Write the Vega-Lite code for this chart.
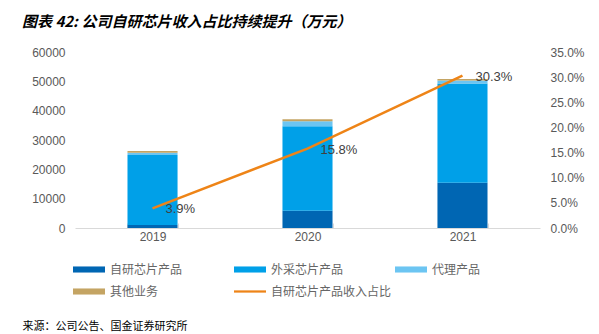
{
  "$schema": "https://vega.github.io/schema/vega-lite/v6.json",
  "width": 465,
  "height": 176,
  "autosize": {"type": "none"},
  "padding": {"left": 75, "top": 52, "right": 59, "bottom": 106},
  "background": "white",
  "title": {
    "text": "图表 42: 公司自研芯片收入占比持续提升（万元）",
    "anchor": "start",
    "frame": "group",
    "font": "Noto Sans CJK SC",
    "fontSize": 15,
    "fontWeight": "bold",
    "fontStyle": "italic",
    "color": "#000000",
    "dx": -53,
    "offset": 16
  },
  "config": {
    "view": {"stroke": null},
    "axis": {"labelFont": "Liberation Sans", "labelFontSize": 12, "labelColor": "#595959"}
  },
  "datasets": {
    "bars": [
      {"year": "2019", "series": "自研芯片产品", "value": 1020, "order": 1},
      {"year": "2019", "series": "外采芯片产品", "value": 23840, "order": 2},
      {"year": "2019", "series": "代理产品", "value": 800, "order": 3},
      {"year": "2019", "series": "其他业务", "value": 600, "order": 4},
      {"year": "2020", "series": "自研芯片产品", "value": 5850, "order": 1},
      {"year": "2020", "series": "外采芯片产品", "value": 28820, "order": 2},
      {"year": "2020", "series": "代理产品", "value": 1700, "order": 3},
      {"year": "2020", "series": "其他业务", "value": 700, "order": 4},
      {"year": "2021", "series": "自研芯片产品", "value": 15400, "order": 1},
      {"year": "2021", "series": "外采芯片产品", "value": 33900, "order": 2},
      {"year": "2021", "series": "代理产品", "value": 1000, "order": 3},
      {"year": "2021", "series": "其他业务", "value": 500, "order": 4}
    ],
    "ratio": [
      {"year": "2019", "pct": 0.039},
      {"year": "2020", "pct": 0.158},
      {"year": "2021", "pct": 0.303}
    ]
  },
  "encoding": {
    "x": {
      "field": "year",
      "type": "ordinal",
      "scale": {"paddingInner": 0.677, "paddingOuter": 0.3387},
      "axis": {
        "labelAngle": 0,
        "labelPadding": 8,
        "domainColor": "#d9d9d9",
        "tickColor": "#d9d9d9",
        "tickBand": "extent",
        "tickSize": -5,
        "title": "来源：公司公告、国金证券研究所",
        "titleFont": "Noto Sans CJK SC",
        "titleFontSize": 11,
        "titleFontWeight": "normal",
        "titleColor": "#000000",
        "titleAlign": "left",
        "titleAnchor": "start",
        "titleBaseline": "alphabetic",
        "titleX": -53,
        "titleY": 101
      }
    }
  },
  "layer": [
    {
      "data": {"name": "bars"},
      "mark": {"type": "bar"},
      "encoding": {
        "y": {
          "field": "value",
          "type": "quantitative",
          "stack": "zero",
          "scale": {"domain": [0, 60000], "nice": false},
          "axis": {
            "orient": "left",
            "title": null,
            "format": "d",
            "values": [0, 10000, 20000, 30000, 40000, 50000, 60000],
            "domain": false,
            "ticks": false,
            "grid": false,
            "labelPadding": 10
          }
        },
        "color": {
          "field": "series",
          "type": "nominal",
          "scale": {
            "domain": ["自研芯片产品", "外采芯片产品", "代理产品", "其他业务", "自研芯片产品收入占比"],
            "range": ["#0066B3", "#00A0E8", "#6CC5F2", "#C4A463", "#EE8417"]
          },
          "legend": {
            "orient": "none",
            "legendX": -2,
            "legendY": 201.5,
            "direction": "horizontal",
            "columns": 3,
            "gridAlign": "all",
            "columnPadding": 3,
            "rowPadding": -8.5,
            "title": null,
            "symbolType": "M-1,-0.19H1V0.19H-1Z",
            "symbolSize": 1024,
            "symbolStrokeWidth": 0,
            "labelOffset": 5,
            "labelFont": "Noto Sans CJK SC",
            "labelFontSize": 12,
            "labelColor": "#666666",
            "labelLimit": 200,
            "encode": {
              "symbols": {
                "update": {
                  "shape": {"signal": "datum.label == '自研芯片产品收入占比' ? 'M-1,-0.07H1V0.07H-1Z' : 'M-1,-0.19H1V0.19H-1Z'"}
                }
              }
            }
          }
        },
        "order": {"field": "order", "type": "quantitative"}
      }
    },
    {
      "data": {"name": "ratio"},
      "encoding": {
        "y": {
          "field": "pct",
          "type": "quantitative",
          "scale": {"domain": [0, 0.35], "nice": false},
          "axis": {
            "orient": "right",
            "title": null,
            "format": ".1%",
            "values": [0, 0.05, 0.1, 0.15, 0.2, 0.25, 0.3, 0.35],
            "domain": false,
            "ticks": false,
            "grid": false,
            "labelPadding": 10
          }
        }
      },
      "layer": [
        {
          "mark": {"type": "line", "stroke": "#EE8417", "strokeWidth": 2.5}
        },
        {
          "mark": {"type": "text", "align": "left", "baseline": "middle", "dx": 13, "dy": 1, "font": "Liberation Sans", "fontSize": 13, "color": "#404040"},
          "encoding": {"text": {"field": "pct", "type": "quantitative", "format": ".1%"}}
        }
      ]
    }
  ],
  "resolve": {"scale": {"y": "independent"}}
}
